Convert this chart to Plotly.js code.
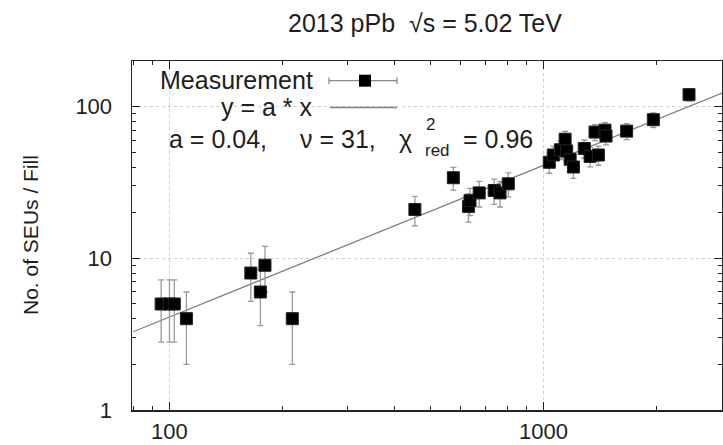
<!DOCTYPE html>
<html>
<head>
<meta charset="utf-8">
<script src="https://cdn.plot.ly/plotly-3.0.1.min.js"></script>
<style>html,body{margin:0;padding:0;background:#fff;}#chart{width:723px;height:445px;}</style>
</head>
<body>
<div id="chart"></div>
<script>
// Data
const luminosity = [95, 100, 103, 111, 165, 175, 180, 213, 453, 574, 630, 636, 673, 738, 765, 805,
                    1036, 1062, 1110, 1142, 1153, 1178, 1202, 1285, 1332, 1373, 1402, 1460, 1469, 1668, 1966, 2449];
const seuCount   = [5, 5, 5, 4, 8, 6, 9, 4, 21, 34, 22, 24, 27, 28, 27, 31,
                    43, 48, 52, 61, 51, 45, 40, 53, 47, 68, 48, 70, 64, 69, 82, 120];
const seuError   = [2.2, 2.2, 2.2, 2, 2.8, 2.4, 3, 2, 4.6, 5.8, 4.7, 4.9, 5.2, 5.3, 5.2, 5.6,
                    6.6, 6.9, 7.2, 7.8, 7.1, 6.7, 6.3, 7.3, 6.9, 8.2, 6.9, 8.4, 8, 8.3, 9.1, 11];
const fitX = [80, 3000];
const fitY = [3.28, 123];
const titleText = "2013 pPb  \u221As = 5.02 TeV";
const yTitle = "No. of SEUs / Fill";
const xMajor = [100, 1000];
const xMinor = [80, 90, 200, 300, 400, 500, 600, 700, 800, 900, 2000, 3000];
const yMajor = [1, 10, 100];
const yMinor = [2, 3, 4, 5, 6, 7, 8, 9, 20, 30, 40, 50, 60, 70, 80, 90, 200];

// plot area in pixels
const L = 132, R = 722, T = 61, B = 410;
const px = x => (x - L) / (R - L);
const py = y => (B - y) / (B - T);

const FONT = "Liberation Sans, Arial, sans-serif";
const TXT = "#1e1e1e";

const traces = [
  {
    x: fitX, y: fitY, mode: "lines", type: "scatter",
    line: {color: "#808080", width: 1.3}, hoverinfo: "skip", showlegend: false
  },
  {
    x: luminosity, y: seuCount, mode: "markers", type: "scatter",
    marker: {symbol: "square", size: 12, color: "#000", line: {color: "#222", width: 1}},
    error_y: {type: "data", array: seuError, visible: true, color: "#9a9a9a", thickness: 1.3, width: 3},
    showlegend: false
  }
];

const ann = (text, x, y, xanchor, size, extra) => Object.assign({
  text: text, xref: "paper", yref: "paper", x: px(x), y: py(y),
  xanchor: xanchor, yanchor: "middle", showarrow: false,
  font: {family: FONT, size: size, color: TXT}
}, extra || {});

const layout = {
  width: 723, height: 445,
  margin: {l: L, r: 723 - R, t: T, b: 445 - B},
  paper_bgcolor: "#fff", plot_bgcolor: "#fff",
  showlegend: false,
  font: {family: FONT, size: 22, color: TXT},
  title: {
    text: titleText, x: 425 / 723, xanchor: "center", xref: "container",
    y: 1 - 23 / 445, yanchor: "middle", yref: "container",
    font: {family: FONT, size: 25, color: TXT}
  },
  xaxis: {
    type: "log", range: [Math.log10(79.4), Math.log10(3000)],
    showline: true, linecolor: "#222", linewidth: 1.5, mirror: "allticks",
    ticks: "inside", ticklen: 8, tickcolor: "#222", tickwidth: 1,
    tickvals: xMajor, ticktext: xMajor.map(String),
    tickfont: {family: FONT, size: 22, color: TXT},
    showgrid: true, gridcolor: "#cfcfcf", griddash: "dot", gridwidth: 1,
    minor: {tickvals: xMinor, ticks: "inside", ticklen: 4, tickcolor: "#222", showgrid: false},
    zeroline: false, ticklabelstandoff: 1
  },
  yaxis: {
    type: "log", range: [0, Math.log10(200)],
    showline: true, linecolor: "#222", linewidth: 1.5, mirror: "allticks",
    ticks: "inside", ticklen: 8, tickcolor: "#222", tickwidth: 1,
    tickvals: yMajor, ticktext: yMajor.map(String),
    tickfont: {family: FONT, size: 22, color: TXT},
    showgrid: true, gridcolor: "#cfcfcf", griddash: "dot", gridwidth: 1,
    minor: {tickvals: yMinor, ticks: "inside", ticklen: 4, tickcolor: "#222", showgrid: false},
    zeroline: false, ticklabelstandoff: 14
  },
  shapes: [
    // legend sample: measurement with error bar
    {type: "line", xref: "paper", yref: "paper", x0: px(329), x1: px(397), y0: py(80.7), y1: py(80.7), line: {color: "#8a8a8a", width: 1.3}},
    {type: "line", xref: "paper", yref: "paper", x0: px(329), x1: px(329), y0: py(77.5), y1: py(84), line: {color: "#8a8a8a", width: 1.3}},
    {type: "line", xref: "paper", yref: "paper", x0: px(397), x1: px(397), y0: py(77.5), y1: py(84), line: {color: "#8a8a8a", width: 1.3}},
    {type: "rect", xref: "paper", yref: "paper", x0: px(359), x1: px(371), y0: py(74.7), y1: py(86.7), fillcolor: "#000", line: {color: "#000", width: 0}},
    // legend sample: fit line
    {type: "line", xref: "paper", yref: "paper", x0: px(330), x1: px(397), y0: py(107.5), y1: py(107.5), line: {color: "#808080", width: 1.3}}
  ],
  annotations: [
    ann("Measurement", 315, 80, "right", 25),
    ann("y = a * x", 315, 107, "right", 25),
    ann("a = 0.04,", 167, 139, "left", 25),
    ann("\u03BD = 31,", 298, 139, "left", 25),
    ann("\u03C7", 397, 139, "left", 25),
    ann("2", 424, 125, "left", 17),
    ann("red", 423, 150, "left", 17),
    ann("= 0.96", 461, 139, "left", 25),
    ann(yTitle, 30, 235, "center", 21, {textangle: -90})
  ]
};

Plotly.newPlot("chart", traces, layout, {displayModeBar: false, staticPlot: true});
</script>
</body>
</html>
